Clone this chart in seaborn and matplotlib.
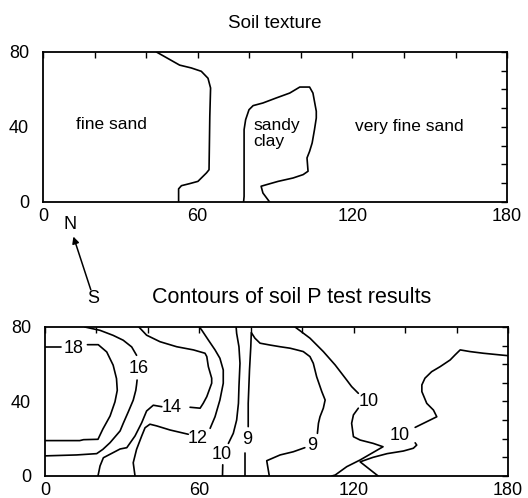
import pandas as pd
import matplotlib
matplotlib.use("Agg")
import matplotlib.pyplot as plt
import seaborn as sns

# ---- Soil texture boundaries (x = distance, y = distance) ----
sand_edge_x = [44, 53, 57.5, 61.4, 64, 65, 64.7, 64.4, 63.4, 60.1, 56.9, 53.7, 52.6, 52.6]
sand_edge_y = [80, 73, 71.5, 69.7, 66, 60.8, 45.7, 17.2, 15.5, 11, 9.8, 8.7, 7, 0]

clay_edge_x = [77.8, 78, 78, 78, 78.6, 79.9, 81.5, 85.3, 90.5, 95.7, 99.6, 103.4, 104.7, 106,
               106, 105.3, 104.4, 103.4, 102.4, 102.8, 100.9, 97, 91.2, 86.6, 84.6, 85.3, 87.9]
clay_edge_y = [0, 3, 24.4, 38.6, 43.9, 49.2, 51.4, 52.8, 55.5, 58.1, 61.3, 61.3, 58.1, 48.4,
               44.8, 38.6, 31.5, 27, 23.5, 16.4, 14.6, 12.8, 11, 9.2, 8.4, 4.8, 0]

texture_names = ["fine sand", "sandy\nclay", "very fine sand"]
texture_x = [26.6, 81.7, 142.2]
texture_y = [41.4, 36.4, 40.4]

# ---- Soil P contour lines (pieces broken at the labels) ----
c18a_x = [0, 6.3]
c18a_y = [69.5, 69.5]
c18b_x = [16.5, 20.7, 24, 26.5, 27.8, 28.1, 27.2, 25.3, 22.5, 20.6, 15, 13.5, 0]
c18b_y = [70.5, 70.5, 66.6, 59.5, 52.3, 46, 39.8, 32.2, 25.2, 19.7, 19.5, 19, 19]

c16a_x = [15.5, 21.4, 26.5, 30.4, 33.7, 35.6]
c16a_y = [80, 78.2, 75.5, 72.9, 69.3, 64.8]
c16b_x = [35.8, 35.6, 35.3, 34.3, 32.4, 30.4, 29.2, 25.3, 22.5, 20.1, 12.3, 0]
c16b_y = [51.5, 49, 46, 40.7, 34.5, 28.2, 24.2, 17.9, 14.3, 12, 11.3, 10.8]

c14a_x = [20.6, 21.4, 22.7, 29.2, 31.8, 35, 37.6, 39.5, 42.1, 45.4]
c14a_y = [0, 5.4, 9.8, 14.5, 15.2, 21.5, 28.6, 34.9, 38, 37.2]
c14b_x = [56.4, 60.3, 61.5, 62.9, 64.8, 64.8, 63.5, 62.9, 62.2, 57.7, 51.2, 44.7, 39.5, 36.5]
c14b_y = [36.9, 36.4, 39, 42.6, 49.8, 52.5, 58.7, 64.1, 65.9, 67.7, 69.4, 72.1, 75.6, 80]

c12a_x = [35, 34.3, 35.6, 37.6, 38.9, 40.8, 43.4, 48.6, 55.7]
c12a_y = [0, 7.1, 14.3, 21.5, 25.9, 27.8, 26.9, 24.7, 22.4]
c12b_x = [64.2, 66.1, 68, 69.3, 69.3, 68, 66.1, 63.5, 60.9, 60]
c12b_y = [25.6, 31.8, 40.8, 49.8, 56.9, 63.2, 67.7, 73, 78.4, 80]

c10a_x = [69, 69.1]
c10a_y = [0, 6]
c10b_x = [71.3, 73.2, 74.5, 75.2, 75.4, 75.8, 75.4, 74.5, 74.3]
c10b_y = [17.5, 22.9, 30, 39, 48, 60.5, 69.4, 76.6, 80]

c9a_x = [77.8, 77.8]
c9a_y = [0, 12.5]
c9b_x = [79, 79, 79.5, 80, 80.2, 81.6, 83.6, 87.5, 91.4, 95.3, 97.9, 100.4, 103, 104.3,
         105.6, 107.6, 108.9, 108.2, 106.9, 106.3, 105.9]
c9b_y = [26.5, 39, 56.9, 69.4, 77, 74, 71.3, 70.3, 69.4, 68.6, 67.7, 66.8, 64.1, 60.5,
         53.3, 45.3, 40.8, 36.4, 31.8, 28.3, 22.9]
c9c_x = [101, 96.5, 91.4, 86.2, 86.4, 87.2]
c9c_y = [15.2, 13, 11.3, 8.2, 6.5, 0]

c10c_x = [97.2, 103, 108.2, 112.8, 117.3, 119.2, 121.8]
c10c_y = [80, 74, 66.8, 59.6, 51.5, 48, 44.4]
c10d_x = [121.8, 119.9, 119.2, 119.9, 122.5, 127.6, 131.4, 122.5, 117.3, 112.8, 111.5]
c10d_y = [36.4, 32.8, 28.3, 21.1, 19.3, 17.5, 15.7, 8.6, 5, 0.5, 0]

c10e_x = [129.5, 122.5, 127.5, 133, 139.3, 143.2, 144.5, 143.9]
c10e_y = [0, 7.6, 10, 12, 13.4, 14.9, 16.6, 17.8]
c10f_x = [143.9, 152.3, 151, 148.4, 146.5, 146.5, 147.7, 150.3, 153.6, 157.5, 159.4, 161.4,
          165.2, 170.4, 176.9, 180]
c10f_y = [26.1, 31.8, 35.4, 39, 45.3, 48.9, 52.5, 56, 58.7, 62.3, 65, 67.7,
          66.8, 65.9, 65, 64.6]

contour_labels = ["18", "16", "14", "12", "10", "9", "9", "10", "10"]
contour_label_x = [11, 36.6, 49.3, 59.3, 68.5, 78.6, 104, 125.8, 138]
contour_label_y = [68.6, 57.7, 36.8, 20, 11.5, 19.8, 16.2, 39.9, 22]

x_ticks = list(range(0, 181, 20))
x_tick_labels = ["0", "", "", "60", "", "", "120", "", "", "180"]
y_ticks = list(range(0, 81, 10))
y_tick_labels = ["0", "", "", "", "40", "", "", "", "80"]


def segments_frame(pieces):
    frames = []
    for name, xs, ys in pieces:
        frames.append(pd.DataFrame({"x": xs, "y": ys, "seg": name,
                                    "order": range(len(xs))}))
    return pd.concat(frames, ignore_index=True)


sns.set_theme(style="white")
plt.rcParams["font.family"] = ["Liberation Sans", "DejaVu Sans"]
plt.rcParams["text.color"] = "black"
plt.rcParams["axes.labelcolor"] = "black"

texture_df = segments_frame([("sand", sand_edge_x, sand_edge_y),
                             ("clay", clay_edge_x, clay_edge_y)])
contour_df = segments_frame([
    ("c18a", c18a_x, c18a_y), ("c18b", c18b_x, c18b_y),
    ("c16a", c16a_x, c16a_y), ("c16b", c16b_x, c16b_y),
    ("c14a", c14a_x, c14a_y), ("c14b", c14b_x, c14b_y),
    ("c12a", c12a_x, c12a_y), ("c12b", c12b_x, c12b_y),
    ("c10a", c10a_x, c10a_y), ("c10b", c10b_x, c10b_y),
    ("c9a", c9a_x, c9a_y), ("c9b", c9b_x, c9b_y), ("c9c", c9c_x, c9c_y),
    ("c10c", c10c_x, c10c_y), ("c10d", c10d_x, c10d_y),
    ("c10e", c10e_x, c10e_y), ("c10f", c10f_x, c10f_y),
])

fig = plt.figure(figsize=(5.28, 4.98), dpi=100)
ax_top = fig.add_axes([0.0814, 0.5944, 0.879, 0.3012])
ax_bot = fig.add_axes([0.0852, 0.0442, 0.877, 0.2992])

for ax, df in [(ax_top, texture_df), (ax_bot, contour_df)]:
    sns.lineplot(data=df, x="x", y="y", units="seg", estimator=None, sort=False,
                 color="black", lw=1.2, ax=ax, legend=False)
    ax.set_xlim(0, 180)
    ax.set_ylim(0, 80)
    ax.set_xticks(x_ticks)
    ax.set_xticklabels(x_tick_labels)
    ax.set_yticks(y_ticks)
    ax.set_yticklabels(y_tick_labels)
    ax.set_xlabel("")
    ax.set_ylabel("")
    ax.tick_params(direction="in", top=True, right=True, length=4, width=1,
                   labelsize=13, colors="black")
    ax.tick_params(axis="y", pad=10)
    ax.tick_params(axis="x", pad=4)
    for sp in ax.spines.values():
        sp.set_color("black")
        sp.set_linewidth(1.3)

for name, tx, ty in zip(texture_names, texture_x, texture_y):
    ha = "left" if "\n" in name else "center"
    ax_top.text(tx, ty, name, ha=ha, va="center", fontsize=12.5, linespacing=1.1,
                color="black")

for lab, lx, ly in zip(contour_labels, contour_label_x, contour_label_y):
    ax_bot.text(lx, ly, lab, ha="center", va="center", fontsize=13, color="black")

ax_top.text(0.5, 1.19, "Soil texture", transform=ax_top.transAxes,
            ha="center", va="center", fontsize=13.5, color="black")
ax_bot.text(0.533, 1.2, "Contours of soil P test results", transform=ax_bot.transAxes,
            ha="center", va="center", fontsize=15.5, color="black")

# north arrow
fig.text(0.133, 0.549, "N", ha="center", va="center", fontsize=13, color="black")
fig.text(0.177, 0.400, "S", ha="center", va="center", fontsize=13, color="black")
ax_top.annotate("", xy=(0.139, 0.525), xytext=(0.172, 0.418),
                xycoords="figure fraction", textcoords="figure fraction",
                arrowprops=dict(arrowstyle="-|>", color="black", lw=1.1,
                                mutation_scale=10, shrinkA=0, shrinkB=0))

fig.savefig("out.png", dpi=100)
